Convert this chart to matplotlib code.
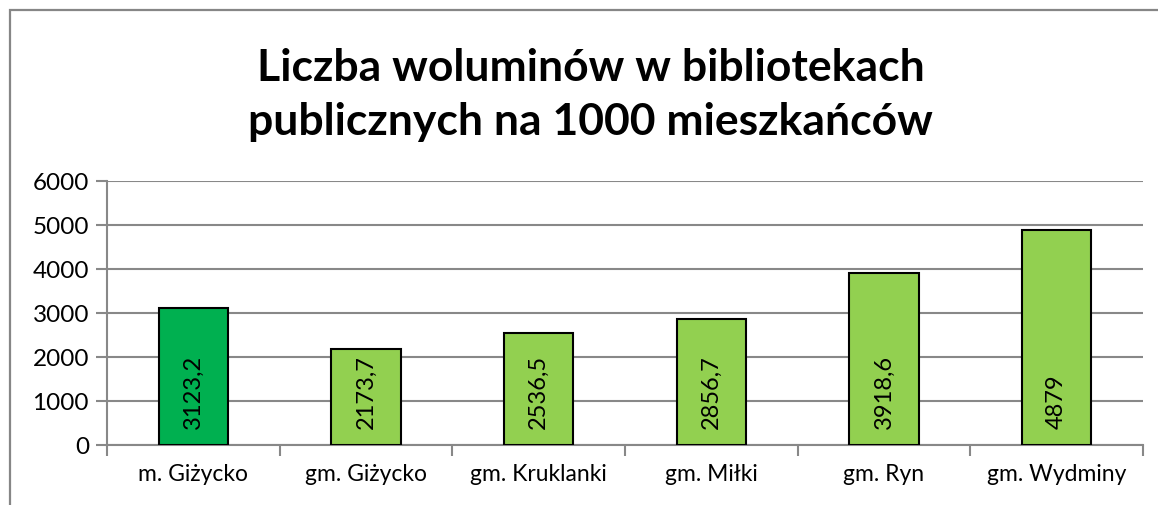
import matplotlib
matplotlib.use("Agg")
import matplotlib.pyplot as plt
from matplotlib.patches import Rectangle

categories = ["m. Giżycko", "gm. Giżycko", "gm. Kruklanki", "gm. Miłki", "gm. Ryn", "gm. Wydminy"]
values = [3123.2, 2173.7, 2536.5, 2856.7, 3918.6, 4879]
labels = ["3123,2", "2173,7", "2536,5", "2856,7", "3918,6", "4879"]
colors = ["#00B050", "#92D050", "#92D050", "#92D050", "#92D050", "#92D050"]
yticks = [0, 1000, 2000, 3000, 4000, 5000, 6000]

plt.rcParams["font.family"] = ["Lato", "DejaVu Sans"]

fig = plt.figure(figsize=(11.58, 5.06), dpi=100)
# outer chart frame (cut off on the right and bottom)
fig.patches.append(Rectangle((9.5 / 1158, -0.1), 1.2, 1 - 10.5 / 506 + 0.1,
                             transform=fig.transFigure, fill=False,
                             edgecolor="#868686", linewidth=1.6))

ax = fig.add_axes([107 / 1158, 1 - 446 / 506, (1143 - 107) / 1158, (446 - 182) / 506])
x = range(len(categories))
ax.bar(x, values, width=0.4, color=colors, edgecolor="black", linewidth=1.5, zorder=3)

for i, (v, lab) in enumerate(zip(values, labels)):
    ax.annotate(lab, (i, 0), xytext=(0, 12), textcoords="offset points",
                rotation=90, ha="center", va="bottom", fontsize=17, zorder=4)

ax.set_xlim(-0.5, len(categories) - 0.5)
ax.set_ylim(0, 6000)
ax.set_yticks(yticks)
ax.set_yticklabels([str(t) for t in yticks], fontsize=17.5)
ax.set_xticks(x)
ax.set_xticklabels(categories, fontsize=16.5)
ax.tick_params(axis="x", length=0, pad=13)
ax.tick_params(axis="y", length=8, color="#888888", width=1.5, pad=5)
ax.set_xticks([i - 0.5 for i in range(len(categories) + 1)], minor=True)
ax.tick_params(axis="x", which="minor", length=8, color="#888888", width=1.5)

ax.grid(axis="y", color="#888888", linewidth=1.5, zorder=0)
for s in ["top", "right"]:
    ax.spines[s].set_visible(False)
for s in ["left", "bottom"]:
    ax.spines[s].set_color("#888888")
    ax.spines[s].set_linewidth(1.5)

fig.text(0.51, 1 - 95 / 506, "Liczba woluminów w bibliotekach\npublicznych na 1000 mieszkańców",
         ha="center", va="center", fontsize=32, fontweight="bold", linespacing=1.45)

fig.savefig("out.png", dpi=100)
